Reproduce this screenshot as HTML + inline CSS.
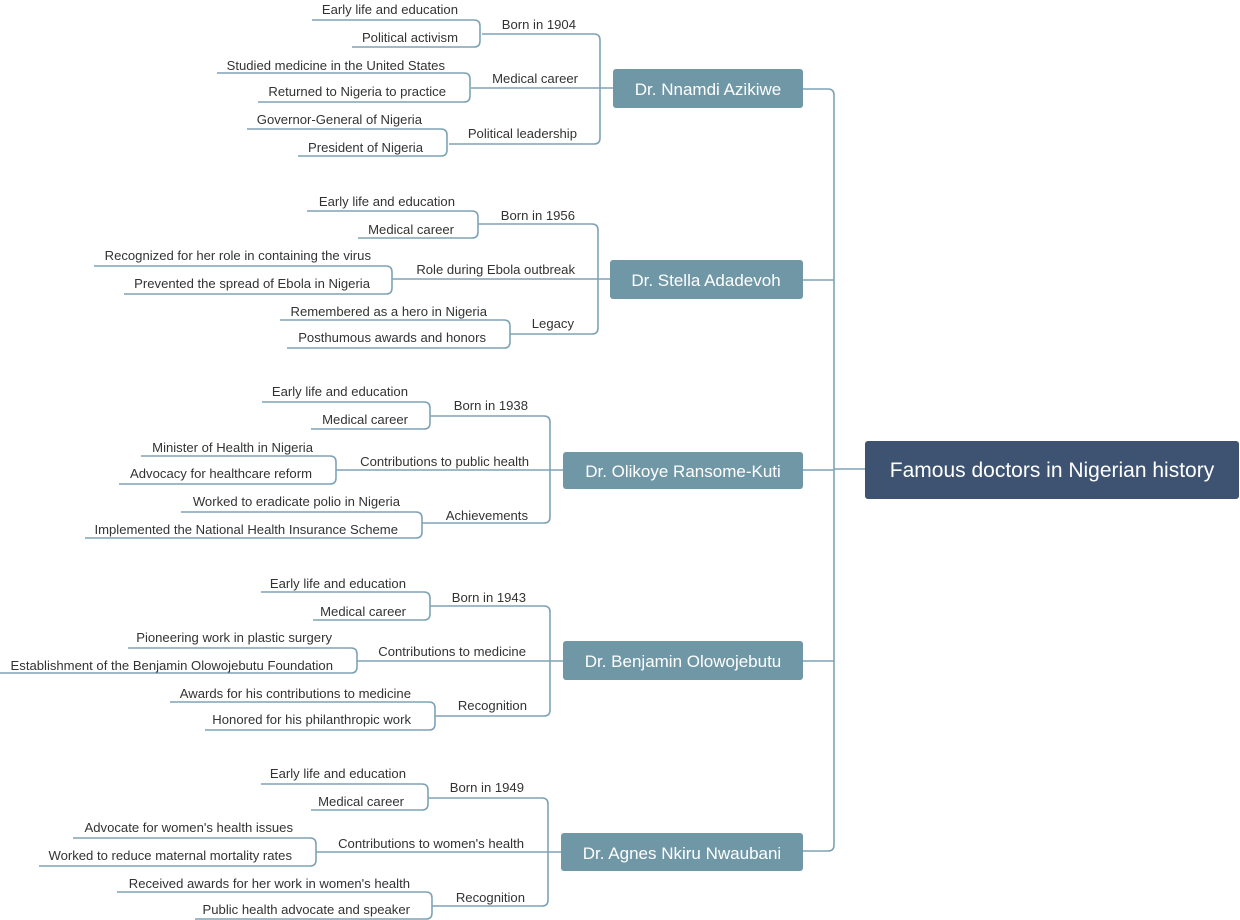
<!DOCTYPE html>
<html><head><meta charset="utf-8"><style>
html,body{margin:0;padding:0;background:#fff;}
svg{display:block;}
text{font-family:"Liberation Sans",Arial,sans-serif;}
.l{font-size:13.1px;fill:#333;text-anchor:end;}
.n{font-size:17px;fill:#fff;text-anchor:middle;}
path{fill:none;stroke:#7fa3b5;stroke-width:1.6;}
</style></head><body>
<svg width="1240" height="920" viewBox="0 0 1240 920" xmlns="http://www.w3.org/2000/svg">
<!-- trunk -->
<path d="M802,89 H828 Q834,89 834,95 V845 Q834,851 828,851 H802"/>
<path d="M802,280 H834 M802,470 H834 M802,661 H834 M834,469 H866"/>
<rect x="865" y="441" width="374" height="58" rx="3" fill="#3e5371"/>
<text x="1052" y="477" class="n" style="font-size:21px">Famous doctors in Nigerian history</text>

<!-- Node 1 -->
<rect x="613" y="69" width="190" height="39" rx="3" fill="#7097a6"/>
<text x="708" y="95" class="n">Dr. Nnamdi Azikiwe</text>
<path d="M482,34 H594 Q600,34 600,40 V138 Q600,144 594,144 H449 M471,88 H613"/>
<path d="M312,20 H474 Q480,20 480,26 V41 Q480,47 474,47 H352"/>
<path d="M217,73 H464 Q470,73 470,79 V96 Q470,102 464,102 H258"/>
<path d="M247,129 H441 Q447,129 447,135 V150 Q447,156 441,156 H298"/>
<text x="576" y="29" class="l">Born in 1904</text>
<text x="578" y="83" class="l">Medical career</text>
<text x="577" y="138" class="l">Political leadership</text>
<text x="458" y="14" class="l">Early life and education</text>
<text x="458" y="42" class="l">Political activism</text>
<text x="445" y="70" class="l">Studied medicine in the United States</text>
<text x="446" y="96" class="l">Returned to Nigeria to practice</text>
<text x="422" y="124" class="l">Governor-General of Nigeria</text>
<text x="423" y="152" class="l">President of Nigeria</text>

<!-- Node 2 -->
<rect x="610" y="260" width="193" height="39" rx="3" fill="#7097a6"/>
<text x="706" y="286" class="n">Dr. Stella Adadevoh</text>
<path d="M478,224 H592 Q598,224 598,230 V328 Q598,334 592,334 H510 M392,279 H610"/>
<path d="M307,211 H472 Q478,211 478,217 V232 Q478,238 472,238 H358"/>
<path d="M94,266 H386 Q392,266 392,272 V288 Q392,294 386,294 H124"/>
<path d="M280,320 H504 Q510,320 510,326 V342 Q510,348 504,348 H287"/>
<text x="575" y="220" class="l">Born in 1956</text>
<text x="575" y="274" class="l">Role during Ebola outbreak</text>
<text x="574" y="328" class="l">Legacy</text>
<text x="455" y="206" class="l">Early life and education</text>
<text x="454" y="234" class="l">Medical career</text>
<text x="371" y="260" class="l">Recognized for her role in containing the virus</text>
<text x="370" y="288" class="l">Prevented the spread of Ebola in Nigeria</text>
<text x="487" y="316" class="l">Remembered as a hero in Nigeria</text>
<text x="486" y="342" class="l">Posthumous awards and honors</text>

<!-- Node 3 -->
<rect x="563" y="452" width="240" height="37" rx="3" fill="#7097a6"/>
<text x="683" y="477" class="n">Dr. Olikoye Ransome-Kuti</text>
<path d="M430,416 H544 Q550,416 550,422 V517 Q550,523 544,523 H422 M336,470 H563"/>
<path d="M262,402 H424 Q430,402 430,408 V423 Q430,429 424,429 H311"/>
<path d="M141,456 H330 Q336,456 336,462 V478 Q336,484 330,484 H119"/>
<path d="M181,512 H416 Q422,512 422,518 V532 Q422,538 416,538 H85"/>
<text x="528" y="410" class="l">Born in 1938</text>
<text x="529" y="466" class="l">Contributions to public health</text>
<text x="528" y="520" class="l">Achievements</text>
<text x="408" y="396" class="l">Early life and education</text>
<text x="408" y="424" class="l">Medical career</text>
<text x="313" y="452" class="l">Minister of Health in Nigeria</text>
<text x="312" y="478" class="l">Advocacy for healthcare reform</text>
<text x="400" y="506" class="l">Worked to eradicate polio in Nigeria</text>
<text x="398" y="534" class="l">Implemented the National Health Insurance Scheme</text>

<!-- Node 4 -->
<rect x="563" y="641" width="240" height="39" rx="3" fill="#7097a6"/>
<text x="683" y="667" class="n">Dr. Benjamin Olowojebutu</text>
<path d="M430,606 H544 Q550,606 550,612 V710 Q550,716 544,716 H435 M357,661 H563"/>
<path d="M261,592 H424 Q430,592 430,598 V614 Q430,620 424,620 H313"/>
<path d="M128,648 H351 Q357,648 357,654 V667 Q357,673 351,673 H0"/>
<path d="M170,702 H429 Q435,702 435,708 V724 Q435,730 429,730 H205"/>
<text x="526" y="602" class="l">Born in 1943</text>
<text x="526" y="656" class="l">Contributions to medicine</text>
<text x="527" y="710" class="l">Recognition</text>
<text x="406" y="588" class="l">Early life and education</text>
<text x="406" y="616" class="l">Medical career</text>
<text x="332" y="642" class="l">Pioneering work in plastic surgery</text>
<text x="333" y="670" class="l">Establishment of the Benjamin Olowojebutu Foundation</text>
<text x="411" y="698" class="l">Awards for his contributions to medicine</text>
<text x="411" y="724" class="l">Honored for his philanthropic work</text>

<!-- Node 5 -->
<rect x="561" y="833" width="242" height="38" rx="3" fill="#7097a6"/>
<text x="682" y="859" class="n">Dr. Agnes Nkiru Nwaubani</text>
<path d="M428,798 H542 Q548,798 548,804 V900 Q548,906 542,906 H432 M316,852 H561"/>
<path d="M261,784 H422 Q428,784 428,790 V804 Q428,810 422,810 H311"/>
<path d="M73,838 H310 Q316,838 316,844 V860 Q316,866 310,866 H39"/>
<path d="M117,892 H426 Q432,892 432,898 V913 Q432,919 426,919 H195"/>
<text x="524" y="792" class="l">Born in 1949</text>
<text x="524" y="848" class="l">Contributions to women's health</text>
<text x="525" y="902" class="l">Recognition</text>
<text x="406" y="778" class="l">Early life and education</text>
<text x="404" y="806" class="l">Medical career</text>
<text x="293" y="832" class="l">Advocate for women's health issues</text>
<text x="292" y="860" class="l">Worked to reduce maternal mortality rates</text>
<text x="410" y="888" class="l">Received awards for her work in women's health</text>
<text x="410" y="914" class="l">Public health advocate and speaker</text>
</svg>
</body></html>
